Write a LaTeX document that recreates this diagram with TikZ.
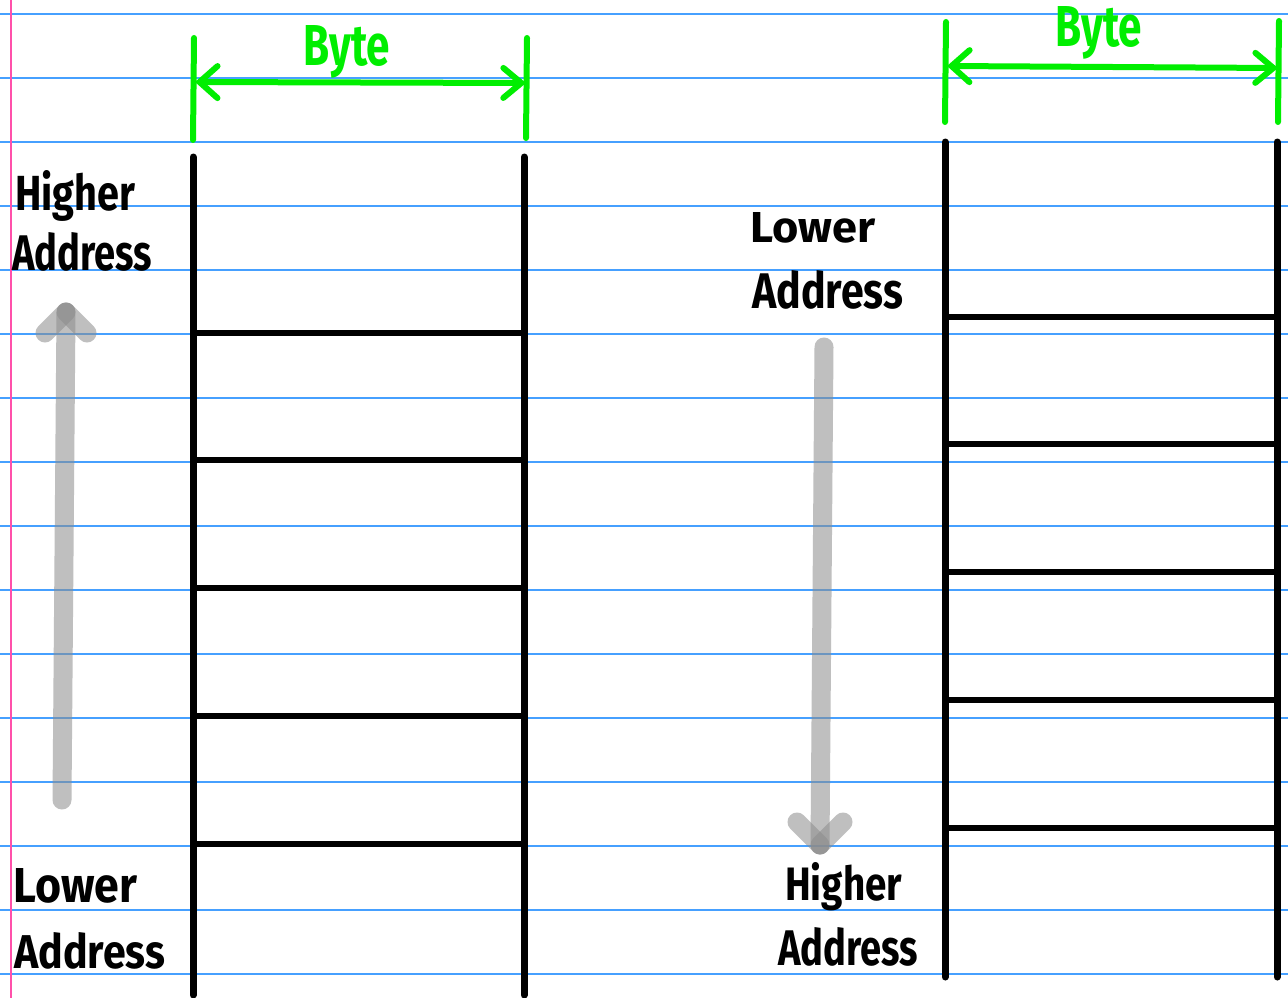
\documentclass[tikz,border=0pt]{standalone}
\usepackage{fontspec}
\setmainfont{Fira Sans}
\usetikzlibrary{arrows.meta}
\definecolor{ruleblue}{RGB}{70,160,255}
\definecolor{marginpink}{RGB}{255,80,170}
\definecolor{pengreen}{RGB}{0,238,0}
\definecolor{pengray}{RGB}{140,140,140}
\newcommand{\hw}[3]{\resizebox{#1pt}{#2pt}{\bfseries #3}}
\tikzset{
  rule/.style={ruleblue, line width=1.5pt},
  margin/.style={marginpink, line width=2pt},
  wall/.style={black, line width=7pt, line cap=round},
  cellline/.style={black, line width=5.5pt},
  tick/.style={pengreen, line width=6pt, line cap=round},
  dimline/.style={pengreen, line width=6pt, line cap=round,
    {Straight Barb[length=18pt,width=32pt,line cap=round]}-{Straight Barb[length=18pt,width=30pt,line cap=round]}},
  dirarrow/.style={pengray, opacity=0.55, line width=19pt, line cap=round, line join=round},
  label/.style={inner sep=0pt, anchor=base west},
  bytelabel/.style={label, text=pengreen}
}
\begin{document}
\begin{tikzpicture}[x=1pt,y=-1pt]
\useasboundingbox (0,0) rectangle (1288,998);
\fill[white] (0,0) rectangle (1288,998);
% ruled paper
\foreach \y in {14,78,...,974} \draw[rule] (0,\y) -- (1288,\y);
\draw[margin] (10.5,0) -- (10.5,998);

% ---------- left column ----------
\coordinate (lTL) at (193,157); \coordinate (lBL) at (193,995);
\coordinate (lTR) at (524,157); \coordinate (lBR) at (524,995);
\draw[wall] (lTL) -- (lBL);
\draw[wall] (lTR) -- (lBR);
\foreach \y in {333,460,588,716,844} \draw[cellline] (193,\y) -- (522,\y);
% byte dimension
\coordinate (lt1a) at (194,38); \coordinate (lt1b) at (193,140);
\coordinate (lt2a) at (527,38); \coordinate (lt2b) at (526,138);
\draw[tick] (lt1a) -- (lt1b);
\draw[tick] (lt2a) -- (lt2b);
\coordinate (lda) at (195,82); \coordinate (ldb) at (526,83);
\draw[dimline] (lda) -- (ldb);
\node[bytelabel] (byteL) at (303,65) {\hw{87}{40}{Byte}};
% direction arrow (up)
\coordinate (lup0) at (62,800); \coordinate (lup1) at (66,312);
\draw[dirarrow] (lup0) -- (lup1);
\draw[dirarrow] (45,333) -- (lup1);
\draw[dirarrow] (87,333) -- (lup1);
\node[label] (hiL1) at (15,210) {\hw{120}{40}{Higher}};
\node[label] (hiL2) at (12,270) {\hw{140}{38}{Address}};
\node[label] (loL1) at (13,902) {\hw{124}{34}{Lower}};
\node[label] (loL2) at (14,968) {\hw{151}{36}{Address}};

% ---------- right column ----------
\coordinate (rTL) at (945,142); \coordinate (rBL) at (945,977);
\coordinate (rTR) at (1277,142); \coordinate (rBR) at (1277,977);
\draw[wall] (rTL) -- (rBL);
\draw[wall] (rTR) -- (rBR);
\foreach \y in {317,444,572,700,828} \draw[cellline] (945,\y) -- (1275,\y);
\coordinate (rt1a) at (946,22); \coordinate (rt1b) at (945,122);
\coordinate (rt2a) at (1279,21); \coordinate (rt2b) at (1278,122);
\draw[tick] (rt1a) -- (rt1b);
\draw[tick] (rt2a) -- (rt2b);
\coordinate (rda) at (947,66); \coordinate (rdb) at (1278,68);
\draw[dimline] (rda) -- (rdb);
\node[bytelabel] (byteR) at (1055,47) {\hw{87}{40}{Byte}};
% direction arrow (down)
\coordinate (rdn0) at (824,347); \coordinate (rdn1) at (820,845);
\draw[dirarrow] (rdn0) -- (rdn1);
\draw[dirarrow] (797,822) -- (rdn1);
\draw[dirarrow] (843,822) -- (rdn1);
\node[label] (loR1) at (750,242) {\hw{125}{30}{Lower}};
\node[label] (loR2) at (752,308) {\hw{151}{38}{Address}};
\node[label] (hiR1) at (785,900) {\hw{117}{38}{Higher}};
\node[label] (hiR2) at (778,965) {\hw{140}{38}{Address}};
\end{tikzpicture}
\end{document}
